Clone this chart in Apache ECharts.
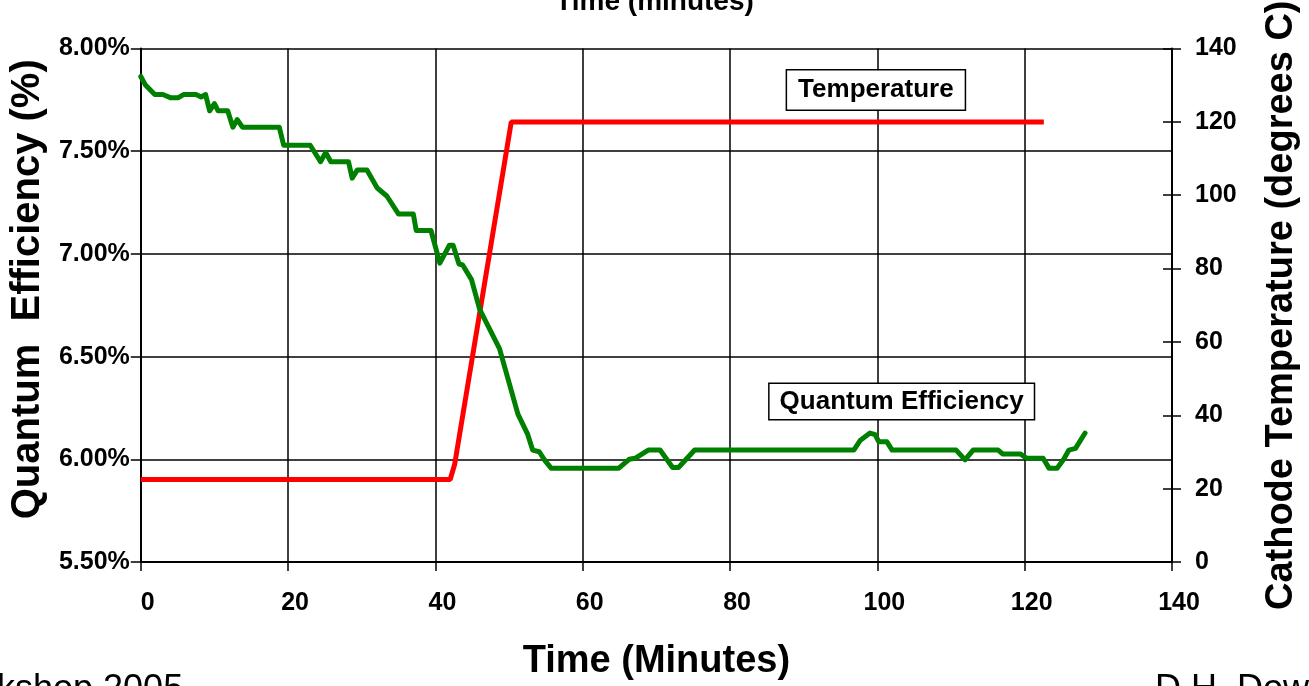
<!DOCTYPE html>
<html>
<head>
<meta charset="utf-8">
<title>Quantum Efficiency and Cathode Temperature vs Time</title>
<script src="https://cdn.jsdelivr.net/npm/echarts@6/dist/echarts.min.js"></script>
<style>
  html, body { margin: 0; padding: 0; background: #ffffff; overflow: hidden; }
  #chart { width: 1309px; height: 686px; }
</style>
</head>
<body>
<div id="chart"></div>
<script>
// Quantum efficiency (%) sampled against elapsed time (minutes)
const qeMinutes = [0, 0.6, 1.9, 3.0, 4.0, 5.1, 5.8, 7.5, 8.2, 8.8, 9.35, 10.0, 10.5, 11.8, 12.5, 13.1, 13.8, 18.8, 19.4, 23.0,
  24.4, 25.1, 25.8, 28.2, 28.7, 29.4, 30.7, 32.1, 33.4, 35.0, 37.0, 37.4, 39.4, 40.6, 41.9, 42.4, 43.2, 43.7, 44.9, 46.0,
  46.9, 48.7, 51.2, 52.5, 53.2, 54.1, 54.8, 55.7, 64.9, 66.3, 67.1, 68.9, 70.5, 72.2, 73.0, 75.2, 96.8, 97.7, 99.0, 99.7,
  100.2, 101.3, 102.0, 110.7, 111.9, 113.0, 116.4, 117.0, 119.4, 120.3, 122.5, 123.3, 124.4, 125.3, 126.0, 126.9, 128.2];
const qeValues = [7.864, 7.824, 7.776, 7.776, 7.761, 7.761, 7.776, 7.776, 7.764, 7.776, 7.697, 7.732, 7.697, 7.697, 7.617, 7.654, 7.617, 7.617, 7.529, 7.529,
  7.449, 7.494, 7.449, 7.449, 7.369, 7.409, 7.409, 7.321, 7.282, 7.194, 7.194, 7.114, 7.114, 6.955, 7.042, 7.042, 6.951, 6.946, 6.875, 6.731,
  6.667, 6.539, 6.220, 6.124, 6.045, 6.037, 5.997, 5.957, 5.957, 6.000, 6.005, 6.045, 6.045, 5.960, 5.960, 6.045, 6.045, 6.093, 6.128, 6.120,
  6.085, 6.085, 6.045, 6.045, 5.997, 6.045, 6.045, 6.026, 6.026, 6.005, 6.005, 5.957, 5.957, 6.000, 6.045, 6.053, 6.128];

// Cathode temperature (degrees C) against elapsed time (minutes)
const tempMinutes = [0, 42.0, 42.6, 50.3, 122.6];
const tempValues = [22.5, 22.5, 26.5, 120, 120];

// Axis ranges
const timeTicks = { min: 0, max: 140, step: 20 };
const qeTicks = { min: 5.5, max: 8.0, step: 0.5 };
const tempTicks = { min: 0, max: 140, step: 20 };

const FONT = '"Liberation Sans", Arial, sans-serif';

const qeData = qeMinutes.map((t, i) => [t, qeValues[i]]);
const tempData = tempMinutes.map((t, i) => [t, tempValues[i]]);

const chart = echarts.init(document.getElementById('chart'), null, { renderer: 'canvas' });

const boldLabel = { fontFamily: FONT, fontWeight: 'bold', color: '#000' };

chart.setOption({
  backgroundColor: '#ffffff',
  animation: false,
  grid: { left: 139, right: 132, top: 45, bottom: 119, containLabel: false },
  xAxis: {
    type: 'value',
    min: timeTicks.min, max: timeTicks.max, interval: timeTicks.step,
    name: 'Time (Minutes)',
    nameLocation: 'middle',
    nameGap: 81,
    nameTextStyle: Object.assign({ fontSize: 38 }, boldLabel),
    axisLine: { show: true, onZero: false, lineStyle: { color: '#000', width: 2 } },
    axisTick: { show: true, length: 9, lineStyle: { color: '#000', width: 1.5 } },
    axisLabel: Object.assign({ fontSize: 25, margin: 29, padding: [0, 0, 0, 14] }, boldLabel),
    splitLine: { show: true, lineStyle: { color: '#000', width: 1.5 } }
  },
  yAxis: [
    {
      type: 'value',
      position: 'left',
      min: qeTicks.min, max: qeTicks.max, interval: qeTicks.step,
      name: 'Quantum  Efficiency (%)',
      nameLocation: 'middle',
      nameGap: 90,
      nameRotate: 90,
      nameTextStyle: Object.assign({ fontSize: 40, padding: [0, 0, 0, 32] }, boldLabel),
      axisLine: { show: true, lineStyle: { color: '#000', width: 2 } },
      axisTick: { show: true, length: 10, lineStyle: { color: '#000', width: 1.5 } },
      axisLabel: Object.assign({ fontSize: 25, margin: 11, formatter: v => v.toFixed(2) + '%' }, boldLabel),
      splitLine: { show: true, lineStyle: { color: '#000', width: 1.5 } }
    },
    {
      type: 'value',
      position: 'right',
      min: tempTicks.min, max: tempTicks.max, interval: tempTicks.step,
      name: 'Cathode Temperature (degrees C)',
      nameLocation: 'middle',
      nameGap: 91,
      nameRotate: 90,
      nameTextStyle: Object.assign({ fontSize: 38 }, boldLabel),
      axisLine: { show: true, lineStyle: { color: '#000', width: 2 } },
      axisTick: { show: true, length: 9, lineStyle: { color: '#000', width: 1.5 } },
      axisLabel: Object.assign({ fontSize: 25, margin: 23 }, boldLabel),
      splitLine: { show: false }
    },
    {
      // inner half of the crossing ticks on the temperature axis
      type: 'value',
      position: 'right',
      min: tempTicks.min, max: tempTicks.max, interval: tempTicks.step,
      axisLine: { show: false },
      axisTick: { show: true, inside: true, length: 9, lineStyle: { color: '#000', width: 1.5 } },
      axisLabel: { show: false },
      splitLine: { show: false }
    }
  ],
  series: [
    {
      name: 'Temperature',
      type: 'line',
      yAxisIndex: 1,
      data: tempData,
      showSymbol: false,
      lineStyle: { color: '#ff0000', width: 5 },
      itemStyle: { color: '#ff0000' },
      z: 3,
      markPoint: {
        symbol: 'rect',
        symbolSize: 0,
        data: [{ coord: [99.8, 128.7], value: 'Temperature' }],
        label: {
          show: true,
          position: 'inside',
          formatter: 'Temperature',
          fontFamily: FONT, fontWeight: 'bold', fontSize: 26, color: '#000',
          backgroundColor: '#fff', borderColor: '#000', borderWidth: 1.5,
          padding: [7, 11, 6, 11]
        }
      }
    },
    {
      name: 'Quantum Efficiency',
      type: 'line',
      yAxisIndex: 0,
      data: qeData,
      showSymbol: false,
      lineStyle: { color: '#008000', width: 5, join: 'round', cap: 'round' },
      itemStyle: { color: '#008000' },
      z: 4,
      markPoint: {
        symbol: 'rect',
        symbolSize: 0,
        data: [{ coord: [103.3, 6.281], value: 'Quantum Efficiency' }],
        label: {
          show: true,
          position: 'inside',
          formatter: 'Quantum Efficiency',
          fontFamily: FONT, fontWeight: 'bold', fontSize: 26, color: '#000',
          backgroundColor: '#fff', borderColor: '#000', borderWidth: 1.5,
          padding: [5, 10, 4, 10]
        }
      }
    }
  ],
  graphic: [
    {
      type: 'text', left: 'center', top: -12,
      style: { text: 'Time (minutes)', font: 'bold 28px ' + FONT, fill: '#000' }
    },
    {
      type: 'text', left: -3, top: 672,
      style: { text: 'kshop 2005', font: '36px ' + FONT, fill: '#000' }
    },
    {
      type: 'text', left: 1155, top: 672,
      style: { text: 'D.H. Dowe', font: '36px ' + FONT, fill: '#000' }
    }
  ]
});
</script>
</body>
</html>
